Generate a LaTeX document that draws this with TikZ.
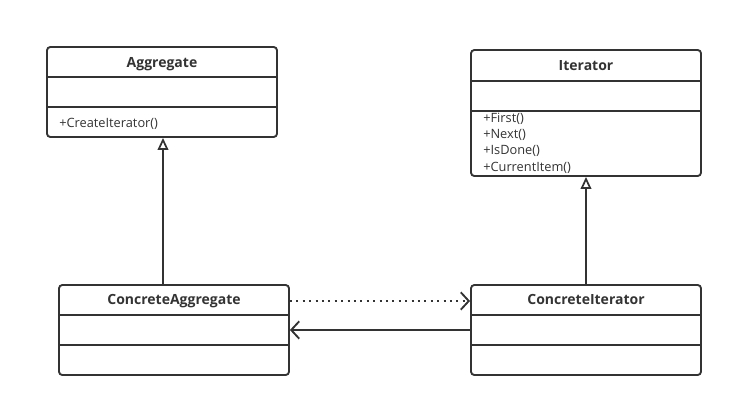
\documentclass[tikz,border=0pt]{standalone}
\usepackage{fontspec}
\setmainfont{Open Sans}
\usetikzlibrary{arrows.meta}
\begin{document}
\begin{tikzpicture}[x=0.75pt,y=-0.75pt,
  classbox/.style={draw=black!80,line width=1.4pt,rounded corners=2.5pt,minimum width=172.5pt,minimum height=#1,inner sep=0pt},
  title/.style={font=\fontsize{10.5}{12}\selectfont\bfseries,text=black!80,inner sep=0pt,anchor=base},
  member/.style={font=\fontsize{9.6}{11}\selectfont,text=black!80,anchor=base west,inner sep=0pt},
  divider/.style={draw=black!80,line width=1.2pt},
  conn/.style={draw=black!80,line width=1.4pt},
  inherit/.style={conn,-{Triangle[open,length=9pt,width=8pt,line width=1.3pt]}},
  barb/.style={-{Straight Barb[length=6pt,width=13pt,line width=1.4pt]}}
]
\useasboundingbox (0,0) rectangle (733,407);
% Aggregate
\node[classbox=67.5pt] (agg) at (162,92) {};
\draw[divider] (47,77) -- (277,77);
\draw[divider] (47,107) -- (277,107);
\node[title] (aggt) at (162,67.5) {Aggregate};
\node[member] (aggm) at (59,127.5) {+CreateIterator()};
% Iterator
\node[classbox=94.5pt] (it) at (586,113) {};
\draw[divider] (471,81) -- (701,81);
\draw[divider] (471,111) -- (701,111);
\node[title] (itt) at (586,70.5) {Iterator};
\node[member] (itm1) at (483,122.5) {+First()};
\node[member] (itm2) at (483,138.5) {+Next()};
\node[member] (itm3) at (483,154.5) {+IsDone()};
\node[member] (itm4) at (483,171) {+CurrentItem()};
% ConcreteAggregate
\node[classbox=67.5pt] (cagg) at (174,330) {};
\draw[divider] (59,315) -- (289,315);
\draw[divider] (59,345) -- (289,345);
\node[title] (caggt) at (174,304.5) {ConcreteAggregate};
% ConcreteIterator
\node[classbox=67.5pt] (cit) at (586,330) {};
\draw[divider] (471,315) -- (701,315);
\draw[divider] (471,345) -- (701,345);
\node[title] (citt) at (586,304.5) {ConcreteIterator};
% connectors
\draw[inherit] (163,285) -- (agg.south -| 163,0);
\draw[inherit] (cit.north) -- (it.south);
\draw[conn,barb,line width=1.5pt,dash pattern=on 1.6pt off 3.2pt] (cagg.east |- 0,301) -- (cit.west |- 0,301);
\draw[conn,barb] (cit.west |- 0,330) -- (cagg.east |- 0,330);
\end{tikzpicture}
\end{document}
